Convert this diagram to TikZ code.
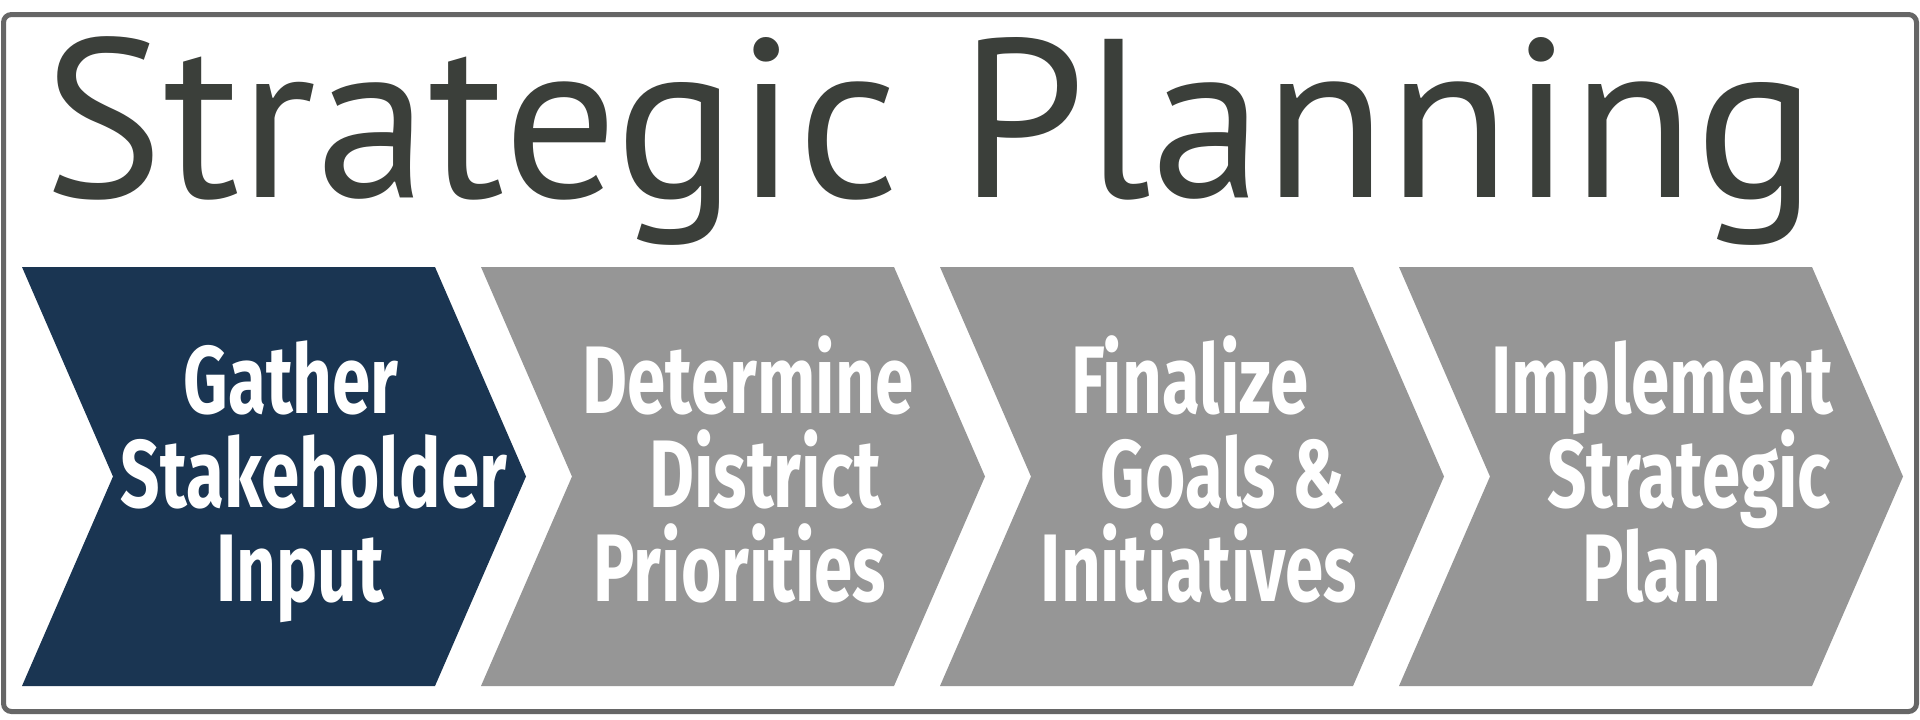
\documentclass[tikz,border=0pt]{standalone}
\usepackage{fontspec}
\newfontfamily\titlefont{PT Sans}
\newfontfamily\chevfont{Fira Sans}[FakeStretch=0.72]
\definecolor{navy}{HTML}{1A3552}
\definecolor{chevgray}{HTML}{969696}
\definecolor{titlecol}{HTML}{3B3F3A}
\definecolor{framecol}{HTML}{666666}
\newcommand\drawchevron[2]{%
  \fill[#2] (#1,267) -- ++(413,0) -- ++(91,209.5) -- ++(-91,209.5) -- ++(-413,0) -- ++(91,-209.5) -- cycle;}
\tikzset{
  lbl/.style={font=\chevfont\bfseries\fontsize{96}{96}\selectfont, text=white, anchor=base, inner sep=0pt},
  titlestyle/.style={font=\titlefont\fontsize{226}{226}\selectfont, text=titlecol, anchor=base, inner sep=0pt},
  framestyle/.style={draw=framecol, line width=5pt, rounded corners=8pt}
}
\begin{document}
\begin{tikzpicture}[x=1pt,y=-1pt]
\useasboundingbox (0,0) rectangle (1920,720);
\fill[white] (0,0) rectangle (1920,720);
\draw[framestyle] (3.5,14.5) rectangle (1916.5,711.5);
\node[titlestyle] (title) at (930,197) {Strategic Planning};
\drawchevron{22}{navy}
\drawchevron{481}{chevgray}
\drawchevron{940}{chevgray}
\drawchevron{1399}{chevgray}
\node[lbl] (c1a) at (291,413) {Gather};
\node[lbl] (c1b) at (314,507) {Stakeholder};
\node[lbl] (c1c) at (300,601) {Input};
\node[lbl] (c2a) at (748,413) {Determine};
\node[lbl] (c2b) at (765,507) {District};
\node[lbl] (c2c) at (740,601) {Priorities};
\node[lbl] (c3a) at (1190,413) {Finalize};
\node[lbl] (c3b) at (1223,507) {Goals \&};
\node[lbl] (c3c) at (1199,601) {Initiatives};
\node[lbl] (c4a) at (1662,413) {Implement};
\node[lbl] (c4b) at (1689,507) {Strategic};
\node[lbl] (c4c) at (1652,601) {Plan};
\end{tikzpicture}
\end{document}
